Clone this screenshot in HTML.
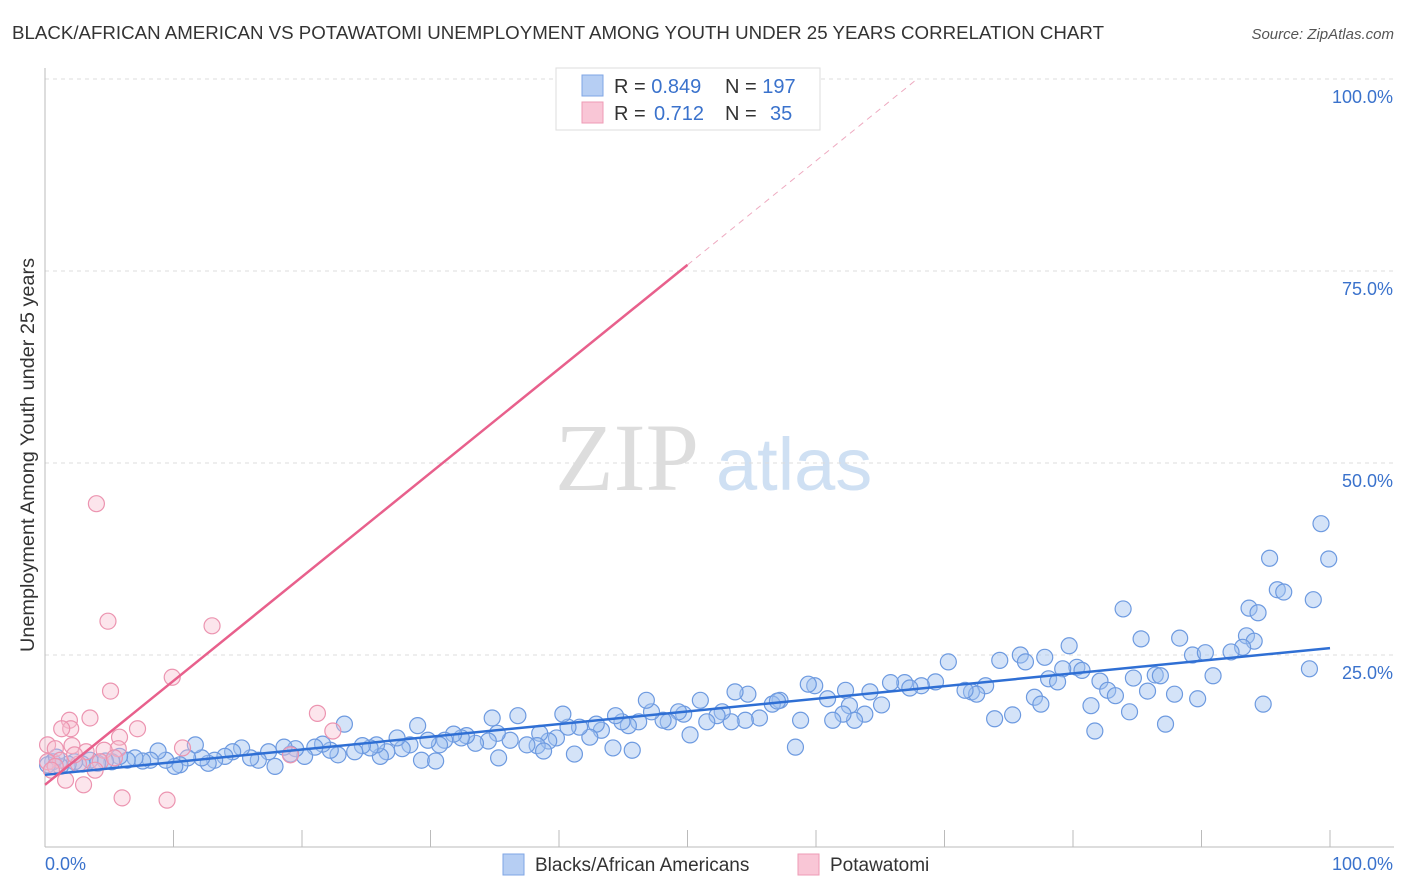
<!DOCTYPE html>
<html><head><meta charset="utf-8"><style>
body{margin:0;background:#fff;font-family:"Liberation Sans",sans-serif;}
svg{display:block}
</style></head><body>
<svg id="chart" width="1406" height="892">
<text x="12" y="39" font-size="18" fill="#333" textLength="1092" lengthAdjust="spacingAndGlyphs">BLACK/AFRICAN AMERICAN VS POTAWATOMI UNEMPLOYMENT AMONG YOUTH UNDER 25 YEARS CORRELATION CHART</text>
<text x="1394" y="39" font-size="15" fill="#555" font-style="italic" text-anchor="end">Source: ZipAtlas.com</text>
<text x="555" y="490" font-size="96" fill="#ddd" font-family="Liberation Serif,serif">ZIP</text>
<text x="716" y="490" font-size="74" fill="#cfe0f3">atlas</text>
<g id="grid"></g><g id="axes"></g><g id="marks"></g>
<text transform="translate(34,455) rotate(-90)" font-size="19" fill="#333" text-anchor="middle" textLength="394" lengthAdjust="spacingAndGlyphs">Unemployment Among Youth under 25 years</text>
<g>
<rect x="556" y="68" width="264" height="62" fill="#fff" stroke="#ddd"/>
<rect x="582" y="75" width="21" height="21" fill="#b6cef3" stroke="#7fa6e4"/>
<rect x="582" y="102" width="21" height="21" fill="#f9c6d6" stroke="#ee9bb5"/>
<text x="614" y="93" font-size="20" fill="#333">R = <tspan fill="#3a72cc">0.849</tspan><tspan x="725">N = </tspan><tspan fill="#3a72cc">197</tspan></text>
<text x="614" y="120" font-size="20" fill="#333">R = <tspan x="654" fill="#3a72cc">0.712</tspan><tspan x="725">N = </tspan><tspan x="770" fill="#3a72cc">35</tspan></text>
</g>
<g>
<rect x="503" y="854" width="21" height="21" fill="#b6cef3" stroke="#7fa6e4"/>
<text x="535" y="871" font-size="19" fill="#333">Blacks/African Americans</text>
<rect x="798" y="854" width="21" height="21" fill="#f9c6d6" stroke="#ee9bb5"/>
<text x="830" y="871" font-size="19" fill="#333">Potawatomi</text>
</g>
</svg>
<script>
const blueX=[99.3,95.3,99.9,95.9,96.4,93.7,94.4,98.7,83.9,85.3,88.3,93.5,94.1,93.2,79.7,75.9,74.3,77.8,76.3,89.3,90.3,92.3,98.4,94.8,90.9,86.4,86.8,80.3,80.7,79.2,78.1,78.8,82.1,82.7,83.3,84.7,85.8,87.9,89.7,84.4,81.4,81.7,87.2,77.0,77.5,75.3,73.9,73.2,72.1,72.5,71.6,70.3,69.3,68.2,66.9,67.3,65.8,64.2,65.1,62.6,63.8,63.0,62.1,61.3,62.3,60.9,59.9,59.4,58.8,57.2,56.6,57.0,55.6,54.7,53.7,54.5,53.4,52.7,52.3,51.5,51.0,50.2,49.7,49.3,48.5,48.1,47.2,46.8,46.2,45.4,44.9,44.4,43.3,42.9,42.4,41.6,40.7,40.3,39.8,39.2,38.5,38.3,37.5,36.8,36.2,35.2,34.8,34.5,33.5,32.8,32.4,31.8,31.1,30.7,29.8,29.3,29.0,28.4,27.8,27.4,26.6,26.1,25.8,25.3,24.7,24.1,23.3,22.8,22.2,21.6,21.0,20.2,19.5,19.1,18.6,17.9,17.4,16.6,16.0,15.3,14.6,14.0,13.2,12.7,12.2,11.7,11.1,10.5,10.1,9.4,8.8,8.2,7.6,7.0,6.4,5.8,5.2,4.7,4.1,3.5,2.9,2.3,1.8,1.2,0.6,0.2,0.9,58.4,44.2,45.7,35.3,30.4,38.8,41.2];
const blueY=[42.1,37.6,37.5,33.5,33.2,31.1,30.5,32.2,31.0,27.1,27.2,27.5,26.8,26.0,26.2,25.0,24.3,24.7,24.1,25.0,25.3,25.4,23.2,18.6,22.3,22.4,22.3,23.4,23.0,23.2,21.9,21.5,21.6,20.4,19.7,22.0,20.3,19.9,19.3,17.6,18.4,15.1,16.0,19.5,18.6,17.2,16.7,21.0,20.2,19.9,20.4,24.1,21.5,21.0,21.4,20.7,21.4,20.2,18.5,18.4,17.3,16.5,17.3,16.5,20.4,19.3,21.0,21.2,16.5,19.1,18.6,19.0,16.8,19.9,20.2,16.5,16.3,17.6,17.1,16.3,19.1,14.6,17.3,17.6,16.3,16.5,17.6,19.1,16.3,15.8,16.3,17.1,15.2,16.0,14.3,15.6,15.6,17.3,14.2,13.8,14.8,13.2,13.3,17.1,13.9,14.8,16.8,13.8,13.5,14.5,14.2,14.7,13.9,13.3,13.9,11.3,15.8,13.3,12.8,14.2,12.4,11.8,13.3,12.9,13.2,12.4,16.0,12.0,12.6,13.4,13.0,11.8,12.8,12.1,13.0,10.5,12.4,11.3,11.6,12.9,12.4,11.8,11.3,10.9,11.6,13.3,11.6,10.7,10.5,11.3,12.5,11.3,11.2,11.6,11.3,11.8,11.1,11.2,10.9,11.3,10.8,11.1,10.8,10.5,11.1,10.7,11.7,13.0,12.9,12.6,11.6,11.2,12.5,12.1];
const pinkX=[4.0,4.9,13.0,9.9,5.1,21.2,3.5,1.9,2.0,7.2,1.3,5.8,22.4,0.2,10.7,2.1,0.8,5.7,4.6,3.2,19.1,1.2,0.2,2.6,4.3,1.6,3.0,6.0,9.5,0.8,0.5,3.9,5.4,43.2,2.3];
const pinkY=[44.7,29.4,28.8,22.1,20.3,17.4,16.8,16.5,15.4,15.4,15.4,14.3,15.1,13.3,12.9,13.2,12.8,12.8,12.6,12.4,12.0,11.3,11.1,10.8,11.1,8.7,8.1,6.4,6.1,10.5,10.0,10.0,11.6,99.9,12.0];
const blueTrend=[9.4,25.9];
const pinkTrend=[8.1,75.8];
const yTicks=[25,50,75,100];
const xTickVals=[0,10,20,30,40,50,60,70,80,90,100];
const NS="http://www.w3.org/2000/svg";
const sx=v=>45+v*12.85, sy=v=>847-v*7.68;
function mk(tag,attrs,parent){const e=document.createElementNS(NS,tag);for(const k in attrs)e.setAttribute(k,attrs[k]);document.getElementById(parent).appendChild(e);return e;}
yTicks.forEach(t=>{
 const l=mk('line',{x1:45,x2:1394,y1:sy(t),y2:sy(t),stroke:'#ddd','stroke-dasharray':'4,4'},'grid');
 
 
 const tx=mk('text',{x:1393,y:sy(t)+24,'font-size':18,fill:'#3a72cc','text-anchor':'end'},'axes');
 tx.textContent=t.toFixed(1)+'%';
 
 
});
mk('line',{x1:45,x2:45,y1:68,y2:847,stroke:'#bbb'},'axes');
mk('line',{x1:45,x2:1394,y1:847,y2:847,stroke:'#bbb'},'axes');
xTickVals.forEach(t=>{
 const l=mk('line',{x1:sx(t),x2:sx(t),y1:830,y2:847,stroke:'#bbb'},'axes');
 
 
});
let t0=mk('text',{x:45,y:870,'font-size':18,fill:'#3a72cc'},'axes');t0.textContent='0.0%';


let t1=mk('text',{x:1393,y:870,'font-size':18,fill:'#3a72cc','text-anchor':'end'},'axes');t1.textContent='100.0%';


blueX.forEach((x,i)=>{
 const c=mk('circle',{cx:sx(x),cy:sy(blueY[i]),r:8,fill:'rgba(160,192,240,0.45)',stroke:'#6d9ae0','stroke-width':1.2},'marks');
 
 
});
pinkX.forEach((x,i)=>{
 const c=mk('circle',{cx:sx(x),cy:sy(pinkY[i]),r:8,fill:'rgba(248,190,208,0.4)',stroke:'#ec94b0','stroke-width':1.2},'marks');
 
 
});
const bl=mk('line',{x1:sx(0),y1:sy(blueTrend[0]),x2:sx(100),y2:sy(blueTrend[1]),stroke:'#2f6fd4','stroke-width':2.5},'marks');


const ps=(pinkTrend[1]-pinkTrend[0])/50;
const pl=mk('line',{x1:sx(0),y1:sy(pinkTrend[0]),x2:sx(50),y2:sy(pinkTrend[1]),stroke:'#e8608c','stroke-width':2.5},'marks');


const xe=(100-pinkTrend[0])/ps;
const pd=mk('line',{x1:sx(50),y1:sy(pinkTrend[1]),x2:sx(xe),y2:sy(100),stroke:'#eeaac0','stroke-width':1,'stroke-dasharray':'6,5'},'marks');


</script>
</body></html>
